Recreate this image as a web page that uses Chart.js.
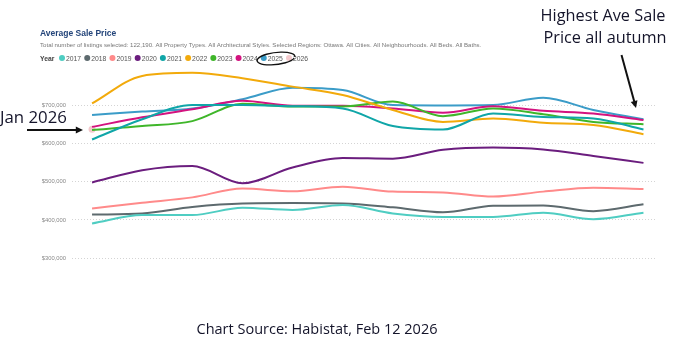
<!DOCTYPE html>
<html>
<head>
<meta charset="utf-8">
<script src="https://cdn.jsdelivr.net/npm/chart.js@4"></script>
<style>
  html, body { margin: 0; padding: 0; background: #fff; }
  #chartAvgPrice { display: block; }
</style>
</head>
<body>
<canvas id="chartAvgPrice" width="674" height="346"></canvas>
<script>
const months = ['Jan','Feb','Mar','Apr','May','Jun','Jul','Aug','Sep','Oct','Nov','Dec'];
const years = ['2017','2018','2019','2020','2021','2022','2023','2024','2025','2026'];
const yearColors = ['#4fcdc2','#5d6a6e','#ff8a8a','#6b1d7e','#10a6a8','#f2aa0b','#3fb62a','#d3137f','#3b9cc8','#f3c9cc'];

const avg2017 = [391000, 413000, 413000, 432000, 426000, 439000, 417000, 408000, 408000, 419000, 402000, 419000];
const avg2018 = [414000, 417000, 434000, 443000, 444000, 443000, 433000, 420000, 437000, 438000, 423000, 441000];
const avg2019 = [430000, 445000, 459000, 482000, 475000, 487000, 474000, 472000, 461000, 474000, 484000, 481000];
const avg2020 = [498000, 530000, 541000, 496000, 537000, 562000, 560000, 583000, 589000, 584000, 567000, 549000];
const avg2021 = [610000, 663000, 700000, 700000, 697000, 691000, 645000, 636000, 678000, 669000, 665000, 636000];
const avg2022 = [704000, 776000, 784000, 770000, 748000, 726000, 687000, 656000, 665000, 654000, 648000, 624000];
const avg2023 = [635000, 645000, 658000, 703000, 696000, 696000, 709000, 671000, 691000, 676000, 656000, 650000];
const avg2024 = [643000, 668000, 689000, 711000, 698000, 698000, 691000, 680000, 697000, 685000, 678000, 661000];
const avg2025 = [674000, 683000, 691000, 715000, 745000, 739000, 700000, 699000, 700000, 719000, 687000, 663000];
const avg2026 = [637000];

const yTicks = [300000, 400000, 500000, 600000, 700000];

const chartAvgPrice = document.getElementById('chartAvgPrice');

function toPoints(values) {
    return values.map(function(v, i) { return {x: i, y: v}; });
}

const seriesValues = [avg2017, avg2018, avg2019, avg2020, avg2021, avg2022, avg2023, avg2024, avg2025, avg2026];

const datasets = seriesValues.map(function(values, i) {
    return {
        label: years[i],
        data: toPoints(values),
        borderColor: yearColors[i],
        backgroundColor: yearColors[i],
        borderWidth: 2,
        cubicInterpolationMode: 'monotone',
        pointRadius: values.length === 1 ? 3.5 : 0,
        pointBorderWidth: 0,
        fill: false
    };
});

// title, subtitle, legend row and the hand-drawn notes
const notesPlugin = {
    id: 'notes',
    afterDraw: function(chart) {
        const ctx = chart.ctx;
        ctx.save();

        ctx.textBaseline = 'alphabetic';
        ctx.textAlign = 'left';
        ctx.fillStyle = '#24457a';
        ctx.font = 'bold 8.5px "Liberation Sans", Arial, sans-serif';
        ctx.fillText('Average Sale Price', 40, 36);

        ctx.fillStyle = '#777';
        ctx.font = '6.1px "Liberation Sans", Arial, sans-serif';
        ctx.fillText('Total number of listings selected: 122,190. All Property Types. All Architectural Styles. Selected Regions: Ottawa. All Cities. All Neighbourhoods. All Beds. All Baths.', 40, 47);

        // legend
        ctx.fillStyle = '#444';
        ctx.font = 'bold 6.8px "Liberation Sans", Arial, sans-serif';
        ctx.fillText('Year', 40, 60.5);
        ctx.font = '6.8px "Liberation Sans", Arial, sans-serif';
        let x = 62;
        chart.data.datasets.forEach(function(ds) {
            ctx.fillStyle = ds.borderColor;
            ctx.beginPath();
            ctx.arc(x, 58, 3, 0, Math.PI * 2);
            ctx.fill();
            ctx.fillStyle = '#555';
            ctx.fillText(ds.label, x + 4, 60.5);
            x += 4 + ctx.measureText(ds.label).width + 6.1;
        });

        // circle round 2025
        ctx.strokeStyle = '#111';
        ctx.lineWidth = 1.4;
        ctx.beginPath();
        ctx.ellipse(276, 58.5, 19, 6, -0.12, 0.3, Math.PI * 2 + 0.1);
        ctx.stroke();

        // annotations
        ctx.fillStyle = '#14142a';
        ctx.textAlign = 'center';
        ctx.font = '16.3px "Open Sans", Lato, sans-serif';
        ctx.fillText('Highest Ave Sale', 603, 21);
        ctx.fillText('Price all autumn', 605, 42.5);
        ctx.textAlign = 'left';
        ctx.font = '16.8px "Open Sans", Lato, sans-serif';
        ctx.fillText('Jan 2026', 0, 123);
        ctx.textAlign = 'center';
        ctx.font = '14.5px "Open Sans", Lato, sans-serif';
        ctx.fillText('Chart Source: Habistat, Feb 12 2026', 317, 334);

        drawArrow(ctx, 621.5, 55, 636, 108);
        drawArrow(ctx, 27, 130, 83, 130);
        ctx.restore();
    }
};

function drawArrow(ctx, x1, y1, x2, y2) {
    const a = Math.atan2(y2 - y1, x2 - x1);
    const len = 8;
    ctx.strokeStyle = '#111';
    ctx.fillStyle = '#111';
    ctx.lineWidth = 2;
    ctx.beginPath();
    ctx.moveTo(x1, y1);
    ctx.lineTo(x2 - Math.cos(a) * len * 0.8, y2 - Math.sin(a) * len * 0.8);
    ctx.stroke();
    ctx.beginPath();
    ctx.moveTo(x2, y2);
    ctx.lineTo(x2 - len * Math.cos(a - 0.45), y2 - len * Math.sin(a - 0.45));
    ctx.lineTo(x2 - len * Math.cos(a + 0.45), y2 - len * Math.sin(a + 0.45));
    ctx.closePath();
    ctx.fill();
}

new Chart(chartAvgPrice, {
    type: 'line',
    plugins: [notesPlugin],
    data: {
        labels: months,
        datasets: datasets
    },
    options: {
        responsive: false,
        animation: false,
        layout: {
            padding: {left: 0, right: 19, top: 66.7, bottom: 87.7}
        },
        plugins: {
            legend: {display: false},
            tooltip: {enabled: false}
        },
        scales: {
            x: {
                type: 'linear',
                display: false,
                min: -0.4,
                max: 11.23
            },
            y: {
                min: 300000,
                max: 800000,
                afterBuildTicks: function(scale) {
                    scale.ticks = yTicks.map(function(v) { return {value: v}; });
                },
                afterFit: function(scale) {
                    scale.width = 72;
                },
                // dotted gridlines
                border: {display: false, dash: [1, 2]},
                grid: {
                    color: '#d4d4d4',
                    lineWidth: 1,
                    drawTicks: false
                },
                ticks: {
                    padding: 6,
                    color: '#888',
                    font: {family: '"Liberation Sans", Arial, sans-serif', size: 5.8},
                    callback: function(value) {
                        return '$' + value.toLocaleString('en-US');
                    }
                }
            }
        }
    }
});
</script>
</body>
</html>
